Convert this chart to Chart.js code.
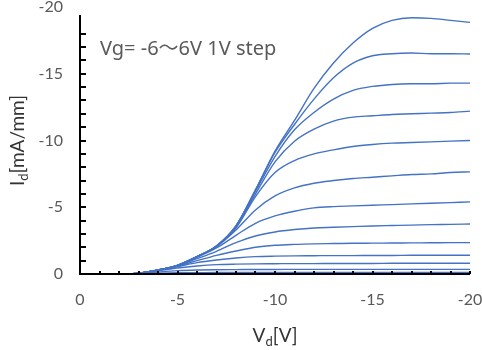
<!DOCTYPE html>
<html>
<head>
<meta charset="utf-8">
<script src="https://cdn.jsdelivr.net/npm/chart.js@4/dist/chart.umd.min.js"></script>
<style>
  html, body { margin: 0; padding: 0; background: #fff; }
  #wrap { width: 482px; height: 350px; }
</style>
</head>
<body>
<div id="wrap"><canvas id="iv"></canvas></div>
<script>
// drain voltage sweep [V]
const vd = [0, -1, -2, -3, -4, -5, -6, -7, -8, -9, -10, -11, -12, -13, -14, -15, -16, -17, -18, -19, -20];

// drain current [mA/mm], one curve per gate voltage
const idVgM6 = [0, 0, -0.01, -0.06, -0.3, -0.65, -1.3, -2.1, -3.6, -6.3, -9.2, -11.5, -13.9, -15.8, -17.3, -18.4, -19.0, -19.2, -19.15, -19.0, -18.85];
const idVgM5 = [0, 0, -0.01, -0.06, -0.3, -0.65, -1.3, -2.1, -3.6, -6.3, -9.1, -11.2, -13.1, -14.7, -15.8, -16.35, -16.5, -16.55, -16.5, -16.5, -16.48];
const idVgM4 = [0, 0, -0.01, -0.06, -0.3, -0.65, -1.3, -2.1, -3.6, -6.2, -8.8, -10.8, -12.1, -13.1, -13.75, -14.05, -14.2, -14.25, -14.25, -14.3, -14.3];
const idVgM3 = [0, 0, -0.01, -0.06, -0.3, -0.65, -1.3, -2.1, -3.55, -6.0, -8.4, -9.95, -10.85, -11.45, -11.75, -11.85, -11.95, -12.0, -12.05, -12.1, -12.2];
const idVgM2 = [0, 0, -0.01, -0.06, -0.3, -0.65, -1.3, -2.1, -3.45, -5.8, -7.6, -8.5, -9.0, -9.3, -9.55, -9.7, -9.8, -9.85, -9.9, -9.95, -10.0];
const idVgM1 = [0, 0, -0.01, -0.06, -0.3, -0.65, -1.3, -2.05, -3.3, -4.8, -5.85, -6.45, -6.8, -7.0, -7.15, -7.25, -7.35, -7.45, -7.5, -7.6, -7.65];
const idVg0  = [0, 0, -0.01, -0.06, -0.3, -0.65, -1.25, -1.95, -2.9, -3.8, -4.35, -4.7, -4.95, -5.05, -5.1, -5.15, -5.2, -5.25, -5.3, -5.35, -5.4];
const idVgP1 = [0, 0, -0.01, -0.06, -0.3, -0.63, -1.15, -1.7, -2.35, -2.85, -3.15, -3.33, -3.45, -3.5, -3.55, -3.6, -3.63, -3.66, -3.7, -3.72, -3.75];
const idVgP2 = [0, 0, -0.01, -0.06, -0.29, -0.6, -1.0, -1.4, -1.72, -2.0, -2.15, -2.22, -2.26, -2.28, -2.3, -2.31, -2.32, -2.33, -2.34, -2.35, -2.35];
const idVgP3 = [0, 0, -0.01, -0.05, -0.27, -0.55, -0.85, -1.05, -1.2, -1.3, -1.34, -1.36, -1.37, -1.38, -1.38, -1.39, -1.39, -1.4, -1.4, -1.4, -1.4];
const idVgP4 = [0, 0, -0.01, -0.05, -0.25, -0.45, -0.6, -0.7, -0.74, -0.76, -0.77, -0.78, -0.78, -0.79, -0.79, -0.79, -0.8, -0.8, -0.8, -0.8, -0.8];
const idVgP5 = [0, 0, 0, -0.03, -0.15, -0.25, -0.3, -0.32, -0.33, -0.34, -0.34, -0.35, -0.35, -0.35, -0.35, -0.35, -0.35, -0.35, -0.35, -0.35, -0.35];
const idVgP6 = [0, 0, 0, -0.02, -0.06, -0.09, -0.1, -0.11, -0.11, -0.12, -0.12, -0.12, -0.12, -0.12, -0.12, -0.12, -0.12, -0.12, -0.12, -0.12, -0.12];

const vgLabels = ["-6", "-5", "-4", "-3", "-2", "-1", "0", "1", "2", "3", "4", "5", "6"];
const curves = [idVgM6, idVgM5, idVgM4, idVgM3, idVgM2, idVgM1, idVg0, idVgP1, idVgP2, idVgP3, idVgP4, idVgP5, idVgP6];

// axis ticks
const xMinorTicks = [-1, -2, -3, -4, -5, -6, -7, -8, -9, -10, -11, -12, -13, -14, -15, -16, -17, -18, -19, -20];
const yMinorTicks = [-1, -2, -3, -4, -5, -6, -7, -8, -9, -10, -11, -12, -13, -14, -15, -16, -17, -18];
const note = "Vg= -6\uFF5E6V 1V step";

const FONT = "Lato, 'Noto Sans', sans-serif";

const datasets = curves.map((c, i) => ({
    label: "Vg=" + vgLabels[i],
    data: vd.map((v, k) => ({ x: v, y: c[k] })),
    borderColor: "#4472C4",
    borderWidth: 1.4,
    pointRadius: 0,
    cubicInterpolationMode: "monotone",
    fill: false
}));

// draws the axis lines, inward ticks, titles with subscripts and the note
const decor = {
    id: "decor",
    afterDraw(chart) {
        const { ctx, chartArea: a, scales: { x, y } } = chart;
        ctx.save();
        ctx.strokeStyle = "#000";
        ctx.lineWidth = 2;
        ctx.beginPath();
        ctx.moveTo(a.left, y.getPixelForValue(-19.4));
        ctx.lineTo(a.left, a.bottom + 1);
        ctx.moveTo(a.left - 1, a.bottom);
        ctx.lineTo(a.right, a.bottom);
        for (const v of yMinorTicks) {
            const py = Math.round(y.getPixelForValue(v));
            ctx.moveTo(a.left, py);
            ctx.lineTo(a.left + 6, py);
        }
        for (const v of xMinorTicks) {
            const px = Math.round(x.getPixelForValue(v));
            ctx.moveTo(px, a.bottom);
            ctx.lineTo(px, a.bottom - 3);
        }
        ctx.stroke();

        ctx.fillStyle = "#333";
        ctx.textBaseline = "alphabetic";
        const big = "19px " + FONT, small = "13px " + FONT;
        const drawSub = (main, sub, rest, cx, cy) => {
            ctx.font = big;
            const w1 = ctx.measureText(main).width, w3 = ctx.measureText(rest).width;
            ctx.font = small;
            const w2 = ctx.measureText(sub).width;
            let px = cx - (w1 + w2 + w3) / 2;
            ctx.font = big; ctx.fillText(main, px, cy); px += w1;
            ctx.font = small; ctx.fillText(sub, px, cy + 4); px += w2;
            ctx.font = big; ctx.fillText(rest, px, cy);
        };
        drawSub("V", "d", "[V]", (a.left + a.right) / 2, 342);
        ctx.save();
        ctx.translate(24, (a.top + a.bottom) / 2);
        ctx.rotate(-Math.PI / 2);
        drawSub("I", "d", "[mA/mm]", 0, 0);
        ctx.restore();

        ctx.fillStyle = "#595959";
        ctx.font = "20px 'Noto Sans', 'Noto Sans CJK JP', sans-serif";
        ctx.textBaseline = "middle";
        ctx.fillText(note, 100, 49);
        ctx.restore();
    }
};

new Chart(document.getElementById("iv"), {
    type: "line",
    data: { datasets },
    options: {
        responsive: true,
        maintainAspectRatio: false,
        animation: false,
        layout: { padding: { top: 7, right: 12, bottom: 0, left: 0 } },
        plugins: {
            legend: { display: false },
            tooltip: { enabled: false }
        },
        scales: {
            x: {
                type: "linear",
                reverse: true,
                min: -20,
                max: 0,
                grid: { display: false, drawTicks: false },
                border: { display: false },
                ticks: {
                    stepSize: 5,
                    padding: 16,
                    color: "#595959",
                    font: { family: FONT, size: 16 }
                },
                afterFit(s) { s.height = 76; s.paddingLeft = 0; s.paddingRight = 0; }
            },
            y: {
                type: "linear",
                reverse: true,
                min: -20,
                max: 0,
                grid: { display: false, drawTicks: false },
                border: { display: false },
                ticks: {
                    stepSize: 5,
                    padding: 17,
                    color: "#595959",
                    font: { family: FONT, size: 16 }
                },
                afterFit(s) { s.width = 80; s.paddingTop = 0; s.paddingBottom = 0; }
            }
        }
    },
    plugins: [decor]
});
</script>
</body>
</html>
